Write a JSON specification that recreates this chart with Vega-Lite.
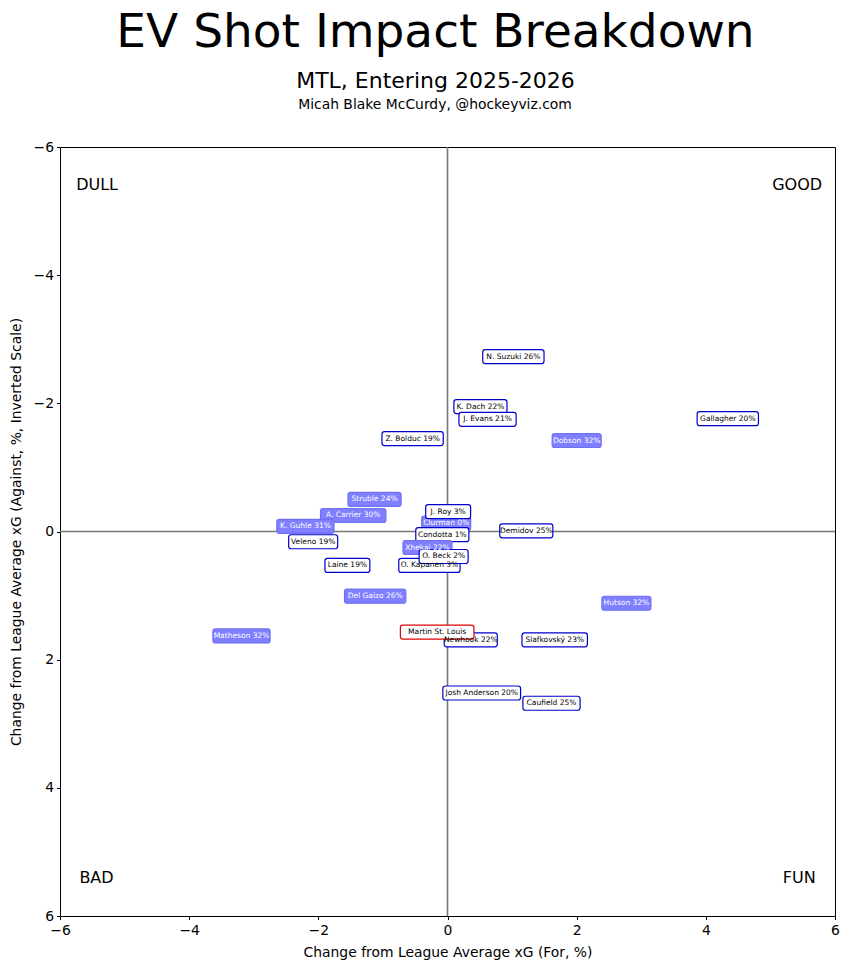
{
  "$schema": "https://vega.github.io/schema/vega-lite/v6.json",
  "autosize": {"type": "none"},
  "padding": {"left": 60, "top": 147, "right": 14, "bottom": 54},
  "width": 775,
  "height": 769,
  "background": "white",
  "title": {
    "text": "EV Shot Impact Breakdown",
    "subtitle": "MTL, Entering 2025-2026",
    "font": "DejaVu Sans",
    "subtitleFont": "DejaVu Sans",
    "fontSize": 47,
    "subtitleFontSize": 22,
    "fontWeight": "normal",
    "color": "black",
    "subtitleColor": "black",
    "anchor": "middle",
    "dx": -12,
    "offset": 4,
    "subtitlePadding": 14
  },
  "data": {
    "values": [
      {"label": "N. Suzuki 26%", "x": 1.02, "y": -2.73, "kind": "F"},
      {"label": "K. Dach 22%", "x": 0.51, "y": -1.95, "kind": "F"},
      {"label": "J. Evans 21%", "x": 0.62, "y": -1.75, "kind": "F"},
      {"label": "Gallagher 20%", "x": 4.34, "y": -1.76, "kind": "F"},
      {"label": "Z. Bolduc 19%", "x": -0.54, "y": -1.45, "kind": "F"},
      {"label": "Dobson 32%", "x": 2.0, "y": -1.42, "kind": "D"},
      {"label": "Struble 24%", "x": -1.13, "y": -0.5, "kind": "D"},
      {"label": "A. Carrier 30%", "x": -1.46, "y": -0.25, "kind": "D"},
      {"label": "K. Guhle 31%", "x": -2.2, "y": -0.08, "kind": "D"},
      {"label": "Veleno 19%", "x": -2.08, "y": 0.16, "kind": "F"},
      {"label": "Clurman 0%", "x": -0.02, "y": -0.13, "kind": "D"},
      {"label": "J. Roy 3%", "x": 0.01, "y": -0.31, "kind": "F"},
      {"label": "Condotta 1%", "x": -0.08, "y": 0.05, "kind": "F"},
      {"label": "Demidov 25%", "x": 1.22, "y": -0.01, "kind": "F"},
      {"label": "Xhekaj 22%", "x": -0.31, "y": 0.25, "kind": "D"},
      {"label": "O. Kapanen 3%", "x": -0.28, "y": 0.53, "kind": "F"},
      {"label": "O. Beck 2%", "x": -0.06, "y": 0.39, "kind": "F"},
      {"label": "Laine 19%", "x": -1.55, "y": 0.53, "kind": "F"},
      {"label": "Del Gaizo 26%", "x": -1.12, "y": 1.01, "kind": "D"},
      {"label": "Matheson 32%", "x": -3.19, "y": 1.63, "kind": "D"},
      {"label": "Newhook 22%", "x": 0.36, "y": 1.69, "kind": "F"},
      {"label": "Martin St. Louis", "x": -0.16, "y": 1.57, "kind": "coach"},
      {"label": "Slafkovský 23%", "x": 1.66, "y": 1.69, "kind": "F"},
      {"label": "Hutson 32%", "x": 2.77, "y": 1.12, "kind": "D"},
      {"label": "Josh Anderson 20%", "x": 0.53, "y": 2.52, "kind": "F"},
      {"label": "Caufield 25%", "x": 1.61, "y": 2.68, "kind": "F"}
    ]
  },
  "resolve": {"axis": {"x": "independent"}},
  "layer": [
    {
      "data": {"values": [{}]},
      "mark": {"type": "rule", "color": "#777777", "strokeWidth": 1.6},
      "encoding": {
        "x": {
          "datum": 0,
          "type": "quantitative",
          "scale": {"domain": [-6, 6], "nice": false, "zero": false},
          "axis": {
            "orient": "top",
            "title": "Micah Blake McCurdy, @hockeyviz.com",
            "titleFontSize": 13.9,
            "titleFont": "DejaVu Sans",
            "titleFontWeight": "normal",
            "titleColor": "black",
            "titlePadding": 36,
            "titleX": 374.5,
            "titleAlign": "center",
            "labels": false,
            "ticks": false,
            "domain": false,
            "grid": false
          }
        }
      }
    },
    {
      "data": {"values": [{}]},
      "mark": {"type": "rule", "color": "#777777", "strokeWidth": 1.6},
      "encoding": {
        "y": {
          "datum": 0,
          "type": "quantitative",
          "scale": {"domain": [-6, 6], "nice": false, "zero": false, "reverse": true},
          "axis": {"title": "Change from League Average xG (Against, %, Inverted Scale)", "values": [-6, -4, -2, 0, 2, 4, 6]}
        }
      }
    },
    {
      "mark": {
        "type": "rect",
        "cornerRadius": 2.5,
        "strokeWidth": 1.2,
        "opacity": 1,
        "xOffset": {"expr": "-(length(datum.label) * 2.05 + 4)"},
        "x2Offset": {"expr": "length(datum.label) * 2.05 + 4"},
        "yOffset": -7,
        "y2Offset": 7
      },
      "encoding": {
        "x": {"field": "x", "type": "quantitative", "scale": {"domain": [-6, 6], "nice": false, "zero": false}, "axis": null},
        "x2": {"field": "x"},
        "y": {"field": "y", "type": "quantitative", "scale": {"domain": [-6, 6], "nice": false, "zero": false, "reverse": true}, "axis": {"title": "Change from League Average xG (Against, %, Inverted Scale)", "values": [-6, -4, -2, 0, 2, 4, 6]}},
        "y2": {"field": "y"},
        "fill": {
          "field": "kind",
          "type": "nominal",
          "scale": {"domain": ["F", "D", "coach"], "range": ["#ffffff", "#7f7fff", "#ffffff"]},
          "legend": null
        },
        "stroke": {
          "field": "kind",
          "type": "nominal",
          "scale": {"domain": ["F", "D", "coach"], "range": ["#0000cc", "#7070f5", "#dd0000"]},
          "legend": null
        }
      }
    },
    {
      "mark": {"type": "text", "font": "DejaVu Sans", "fontSize": 7.5, "align": "center", "baseline": "middle"},
      "encoding": {
        "x": {
          "field": "x",
          "type": "quantitative",
          "scale": {"domain": [-6, 6], "nice": false, "zero": false},
          "axis": {
            "values": [-6, -4, -2, 0, 2, 4, 6],
            "title": "Change from League Average xG (For, %)",
            "grid": false,
            "domain": false,
            "labelFlush": false,
            "tickColor": "black",
            "tickSize": 3.5,
            "labelPadding": 4,
            "labelFontSize": 13.9,
            "labelFont": "DejaVu Sans",
            "labelColor": "black",
            "titleFontSize": 13.9,
            "titleFont": "DejaVu Sans",
            "titleFontWeight": "normal",
            "titleColor": "black",
            "titlePadding": 8
          }
        },
        "y": {
          "field": "y",
          "type": "quantitative",
          "scale": {"domain": [-6, 6], "nice": false, "zero": false, "reverse": true},
          "axis": {"title": "Change from League Average xG (Against, %, Inverted Scale)", "values": [-6, -4, -2, 0, 2, 4, 6]}
        },
        "text": {"field": "label"},
        "color": {
          "field": "kind",
          "type": "nominal",
          "scale": {"domain": ["F", "D", "coach"], "range": ["#000000", "#ffffff", "#000000"]},
          "legend": null
        }
      }
    },
    {
      "data": {
        "values": [
          {"word": "DULL", "x": -5.75, "y": -5.4},
          {"word": "GOOD", "x": 5.8, "y": -5.4},
          {"word": "BAD", "x": -5.7, "y": 5.4},
          {"word": "FUN", "x": 5.7, "y": 5.4}
        ]
      },
      "mark": {
        "type": "text",
        "font": "DejaVu Sans",
        "fontSize": 16,
        "color": "black",
        "baseline": "middle",
        "align": {"expr": "datum.x < 0 ? 'left' : 'right'"}
      },
      "encoding": {
        "x": {"field": "x", "type": "quantitative", "scale": {"domain": [-6, 6], "nice": false, "zero": false}, "axis": null},
        "y": {"field": "y", "type": "quantitative", "scale": {"domain": [-6, 6], "nice": false, "zero": false, "reverse": true}, "axis": {"title": "Change from League Average xG (Against, %, Inverted Scale)", "values": [-6, -4, -2, 0, 2, 4, 6]}},
        "text": {"field": "word"}
      }
    }
  ],
  "config": {
    "view": {"stroke": "black", "strokeWidth": 1},
    "axisY": {
      "grid": false,
      "domain": false,
      "labelFlush": false,
      "tickColor": "black",
      "tickSize": 3.5,
      "labelPadding": 3,
      "labelFontSize": 13.9,
      "labelFont": "DejaVu Sans",
      "labelColor": "black",
      "titleFontSize": 13.9,
      "titleFont": "DejaVu Sans",
      "titleFontWeight": "normal",
      "titleColor": "black",
      "titlePadding": 10
    }
  }
}
